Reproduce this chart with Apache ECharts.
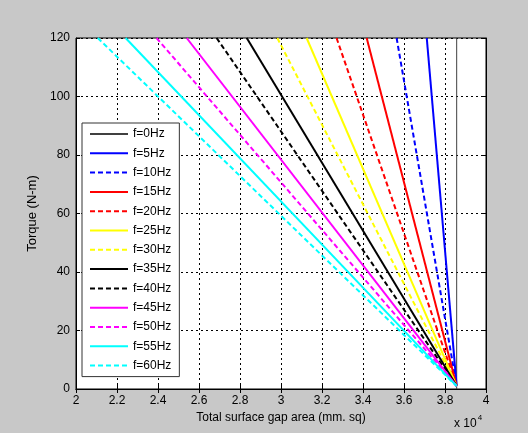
<!DOCTYPE html>
<html>
<head>
<meta charset="utf-8">
<script src="https://cdn.jsdelivr.net/npm/echarts@6/dist/echarts.min.js"></script>
<style>
  html, body { margin: 0; padding: 0; background: #c8c8c8; }
  #chart { width: 528px; height: 433px; }
</style>
</head>
<body>
<div id="chart"></div>
<script>
// frequencies and where each line meets the top of the axes (x in units of 10^4 mm sq)
const freqs = [0, 5, 10, 15, 20, 25, 30, 35, 40, 45, 50, 55, 60]
const topX = [3.857, 3.711, 3.564, 3.418, 3.271, 3.125, 2.982, 2.833, 2.686, 2.540, 2.393, 2.242, 2.106]
const topY = [120, 120, 120, 120, 120, 120, 120, 120, 120, 120, 120, 120, 120]
// common end point near the bottom
const endX = 3.857
const endY = [0, 1, 1, 1, 1, 1, 1, 1, 1, 1, 1, 1, 1]
const colors = ['#404040', '#0000ff', '#0000ff', '#ff0000', '#ff0000', '#ffff00', '#ffff00',
  '#000000', '#000000', '#ff00ff', '#ff00ff', '#00ffff', '#00ffff']
const dashed = [false, false, true, false, true, false, true, false, true, false, true, false, true]
const xTicks = [2, 2.2, 2.4, 2.6, 2.8, 3, 3.2, 3.4, 3.6, 3.8, 4]

const chart = echarts.init(document.getElementById('chart'))

const series = freqs.map((f, i) => ({
  name: 'f=' + f + 'Hz',
  type: 'line',
  symbol: 'none',
  silent: true,
  animation: false,
  data: [[topX[i], topY[i]], [endX, endY[i]]],
  lineStyle: {
    color: colors[i],
    width: i === 0 ? 1 : 2,
    type: dashed[i] ? [5, 3] : 'solid'
  },
  itemStyle: { color: colors[i] }
}))

const font = 'Liberation Sans, Arial, sans-serif'

const option = {
  backgroundColor: '#c8c8c8',
  animation: false,
  grid: { left: 76, right: 42, top: 38, bottom: 44, show: true, backgroundColor: '#fff', borderColor: '#000', borderWidth: 1 },
  legend: {
    orient: 'vertical',
    left: 82,
    top: 123,
    padding: [5, 8, 5, 7],
    backgroundColor: '#fff',
    borderColor: '#333',
    borderWidth: 1,
    itemWidth: 38,
    itemHeight: 12,
    itemGap: 7.3,
    itemStyle: { opacity: 0 },
    textStyle: { fontFamily: font, fontSize: 12, color: '#000' },
    data: series.map(s => s.name)
  },
  xAxis: [{
    type: 'value',
    min: 2, max: 4, interval: 0.2,
    name: 'Total surface gap area (mm. sq)',
    nameLocation: 'middle',
    nameGap: 22,
    nameTextStyle: { fontFamily: font, fontSize: 12, color: '#000' },
    axisLine: { show: true, lineStyle: { color: '#000' } },
    axisTick: { inside: true, length: 4, lineStyle: { color: '#000' } },
    axisLabel: { fontFamily: font, fontSize: 12, color: '#000', margin: 6,
      formatter: v => xTicks.includes(+v.toFixed(1)) ? String(+v.toFixed(1)) : '' },
    splitLine: { show: true, lineStyle: { color: '#000', type: [2, 3] } }
  }, {
    type: 'value', position: 'top',
    min: 2, max: 4, interval: 0.2,
    axisLine: { show: true, lineStyle: { color: '#000' } },
    axisTick: { inside: true, length: 4, lineStyle: { color: '#000' } },
    axisLabel: { show: false },
    splitLine: { show: false }
  }],
  yAxis: [{
    type: 'value',
    min: 0, max: 120, interval: 20,
    name: 'Torque (N-m)',
    nameLocation: 'middle',
    nameGap: 26,
    nameTextStyle: { fontFamily: font, fontSize: 13, color: '#000' },
    axisLine: { show: true, lineStyle: { color: '#000' } },
    axisTick: { inside: true, length: 4, lineStyle: { color: '#000' } },
    axisLabel: { fontFamily: font, fontSize: 12, color: '#000', margin: 6 },
    splitLine: { show: true, lineStyle: { color: '#000', type: [2, 3] } }
  }, {
    type: 'value', position: 'right',
    min: 0, max: 120, interval: 20,
    axisLine: { show: true, lineStyle: { color: '#000' } },
    axisTick: { inside: true, length: 4, lineStyle: { color: '#000' } },
    axisLabel: { show: false },
    splitLine: { show: false }
  }],
  graphic: [{
    type: 'text',
    left: 454,
    top: 414,
    style: {
      text: '{a|x 10}{b|4}',
      rich: {
        a: { fontFamily: font, fontSize: 12, fill: '#000', verticalAlign: 'bottom' },
        b: { fontFamily: font, fontSize: 8, fill: '#000', verticalAlign: 'top', padding: [0, 0, 8, 1] }
      }
    }
  }],
  series: series
}

chart.setOption(option)
</script>
</body>
</html>
